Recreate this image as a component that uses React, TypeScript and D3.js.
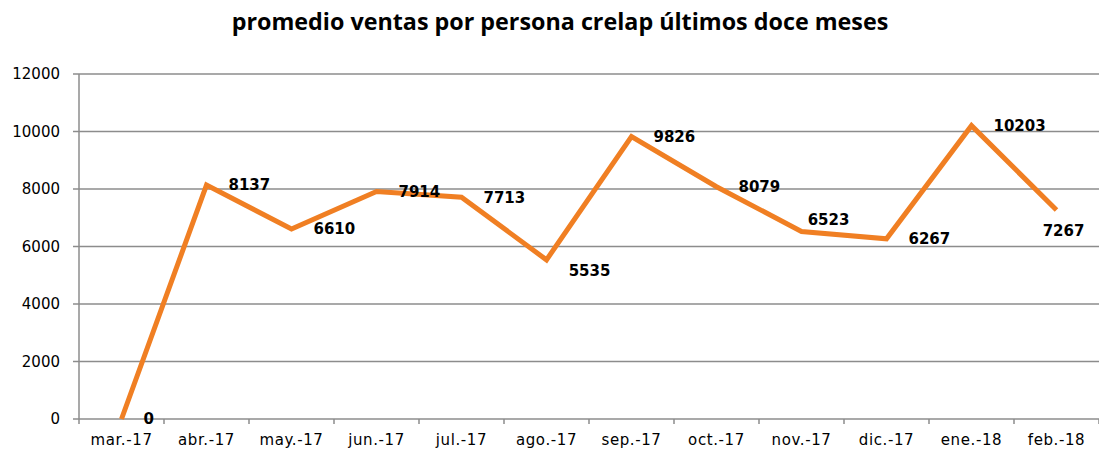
import React, { useRef, useEffect } from 'react';
import * as d3 from 'd3';

const months = ['mar.-17', 'abr.-17', 'may.-17', 'jun.-17', 'jul.-17', 'ago.-17', 'sep.-17', 'oct.-17', 'nov.-17', 'dic.-17', 'ene.-18', 'feb.-18'];
const ventas = [0, 8137, 6610, 7914, 7713, 5535, 9826, 8079, 6523, 6267, 10203, 7267];
const yTicks = [0, 2000, 4000, 6000, 8000, 10000, 12000];
// where Excel put each data label: 'r' right, 'b' below, 'ar' above-right
const labelPos = ['r', 'r', 'r', 'r', 'r', 'br', 'r', 'r', 'ar', 'r', 'r', 'b'];

const App = () => {
  const ref = useRef<SVGSVGElement>(null);

  useEffect(() => {
    const width = 1099, height = 455;
    const margin = { top: 74, right: 0, bottom: 36, left: 79 };

    const svg = d3.select(ref.current);
    svg.selectAll('*').remove();

    const x = d3.scaleBand<string>()
      .domain(months)
      .range([margin.left, width - margin.right]);

    const y = d3.scaleLinear()
      .domain([0, 12000])
      .range([height - margin.bottom, margin.top]);

    svg.append('text')
      .attr('x', 560)
      .attr('y', 30)
      .attr('text-anchor', 'middle')
      .style('font-family', '"Open Sans", sans-serif')
      .style('font-weight', 'bold')
      .style('font-size', '23.3px')
      .text('promedio ventas por persona crelap últimos doce meses');

    // grid
    svg.append('g')
      .selectAll('line')
      .data(yTicks)
      .enter()
      .append('line')
      .attr('x1', margin.left - 6)
      .attr('x2', width - margin.right)
      .attr('y1', d => y(d))
      .attr('y2', d => y(d))
      .attr('stroke', '#8c8c8c')
      .attr('stroke-width', 1.5);

    svg.append('g')
      .selectAll('text')
      .data(yTicks)
      .enter()
      .append('text')
      .attr('x', margin.left - 19)
      .attr('y', d => y(d))
      .attr('dy', '0.35em')
      .attr('text-anchor', 'end')
      .style('font-family', '"DejaVu Sans", sans-serif')
      .style('font-size', '15px')
      .text(d => d);

    // y axis line
    svg.append('line')
      .attr('x1', margin.left).attr('x2', margin.left)
      .attr('y1', y(12000)).attr('y2', y(0))
      .attr('stroke', '#8c8c8c')
      .attr('stroke-width', 1.5);

    // x axis
    const xg = svg.append('g')
      .attr('transform', `translate(0,${y(0)})`)
      .call(d3.axisBottom(x).tickSize(0).tickPadding(15));
    xg.select('.domain').remove();
    xg.selectAll('text')
      .style('font-family', '"DejaVu Sans", sans-serif')
      .style('font-size', '15px')
      .style('letter-spacing', '0.6px')
      .attr('fill', '#000');
    const bounds = months.map(m => x(m)!).concat([width - margin.right]);
    svg.append('g')
      .selectAll('line')
      .data(bounds)
      .enter()
      .append('line')
      .attr('x1', d => d).attr('x2', d => d)
      .attr('y1', y(0)).attr('y2', y(0) + 5)
      .attr('stroke', '#8c8c8c')
      .attr('stroke-width', 1.5);

    const cx = (i: number) => x(months[i])! + x.bandwidth() / 2;

    const line = d3.line<number>()
      .x((d, i) => cx(i))
      .y(d => y(d));

    svg.append('path')
      .datum(ventas)
      .attr('d', line)
      .attr('fill', 'none')
      .attr('stroke', '#f07f23')
      .attr('stroke-width', 5)
      .attr('stroke-linejoin', 'miter');

    svg.append('g')
      .selectAll('text')
      .data(ventas)
      .enter()
      .append('text')
      .attr('x', (d, i) => {
        const p = labelPos[i];
        if (p === 'b') return cx(i) + 7;
        if (p === 'br') return cx(i) + 43;
        if (p === 'ar') return cx(i) + 27;
        return cx(i) + 22;
      })
      .attr('y', (d, i) => {
        const p = labelPos[i];
        if (p === 'b') return y(d) + 21;
        if (p === 'br') return y(d) + 11;
        if (p === 'ar') return y(d) - 12;
        return y(d);
      })
      .attr('dy', '0.35em')
      .attr('text-anchor', (d, i) => (labelPos[i] === 'r' ? 'start' : 'middle'))
      .style('font-family', '"DejaVu Sans", sans-serif')
      .style('font-weight', 'bold')
      .style('font-size', '15px')
      .text(d => d);
  }, []);

  return <svg ref={ref} width={1099} height={455} style={{ position: 'absolute', left: 0, top: 0 }} />;
};

export default App;
